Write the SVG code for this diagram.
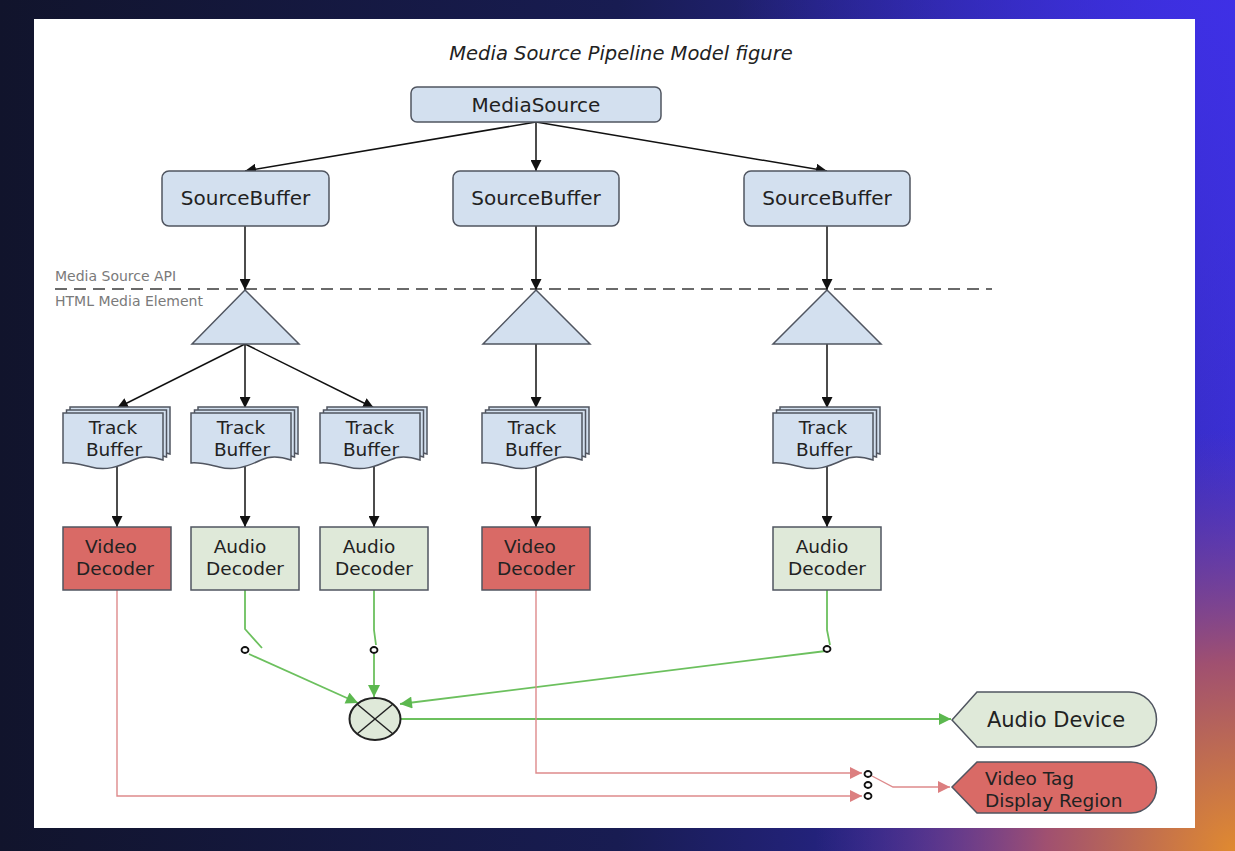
<svg xmlns="http://www.w3.org/2000/svg" width="1235" height="851" viewBox="0 0 1235 851">
<defs>
<linearGradient id="bg" x1="0" y1="0" x2="1" y2="0">
<stop offset="0" stop-color="#11142c"/>
<stop offset="0.5" stop-color="#181c52"/>
<stop offset="1" stop-color="#3a2fd0"/>
</linearGradient>
<radialGradient id="tr" cx="1235" cy="0" r="500" gradientUnits="userSpaceOnUse">
<stop offset="0" stop-color="#3f30e8" stop-opacity="0.9"/>
<stop offset="1" stop-color="#3f30e8" stop-opacity="0"/>
</radialGradient>
<radialGradient id="br" cx="1235" cy="851" r="420" gradientUnits="userSpaceOnUse">
<stop offset="0" stop-color="#e08a30"/>
<stop offset="0.45" stop-color="#a05070"/>
<stop offset="1" stop-color="#6a3aa0" stop-opacity="0"/>
</radialGradient>
<marker id="ab" viewBox="0 0 10 10" refX="10" refY="5" markerWidth="11" markerHeight="11" markerUnits="userSpaceOnUse" orient="auto">
<path d="M0,0 L10,5 L0,10 Z" fill="#111"/>
</marker>
<marker id="ag" viewBox="0 0 10 10" refX="10" refY="5" markerWidth="13" markerHeight="12" markerUnits="userSpaceOnUse" orient="auto">
<path d="M0,0 L10,5 L0,10 Z" fill="#5cb84f"/>
</marker>
<marker id="ar" viewBox="0 0 10 10" refX="10" refY="5" markerWidth="13" markerHeight="12" markerUnits="userSpaceOnUse" orient="auto">
<path d="M0,0 L10,5 L0,10 Z" fill="#dc7f80"/>
</marker>
<g id="doc">
<path d="M7,-6 H107 V41 C95,37 85,37 77,41 C62,48 50,52 35,48 C22,45 15,43 7,44 Z"/>
<path d="M3.5,-3 H103.5 V44 C91,40 81,40 73,44 C58,51 46,55 31,51 C18,48 11,46 3.5,47 Z"/>
<path d="M0,0 H100 V47 C88,43 78,43 70,47 C55,54 43,58 28,54 C15,51 8,49 0,50 Z"/>
</g>
</defs>
<style>
.box{fill:#d3e0ef;stroke:#505560;stroke-width:1.5}
.tb{fill:#d3e0ef;stroke:#505560;stroke-width:1.5}
.vd{fill:#d96a66;stroke:#505560;stroke-width:1.5}
.ad{fill:#dfe9d9;stroke:#505560;stroke-width:1.5}
.t{font-family:"DejaVu Sans",Verdana,sans-serif;font-size:20px;fill:#222;text-anchor:middle}
.t2{font-family:"DejaVu Sans",Verdana,sans-serif;font-size:18.5px;fill:#222;text-anchor:middle}
.lbl{font-family:"DejaVu Sans",Verdana,sans-serif;font-size:14px;fill:#7a7a7a}
.blk{stroke:#111;stroke-width:1.5;fill:none}
.grn{stroke:#6cc05e;stroke-width:1.8;fill:none}
.red{stroke:#de8a8c;stroke-width:1.4;fill:none}
.sw{fill:#fff;stroke:#111;stroke-width:1.8}
</style>
<rect width="1235" height="851" fill="url(#bg)"/>
<rect width="1235" height="851" fill="url(#tr)"/>
<rect width="1235" height="851" fill="url(#br)"/>
<rect x="34" y="19" width="1161" height="809" fill="#ffffff"/>

<text x="621" y="60" font-family="DejaVu Sans, Verdana, sans-serif" font-size="19.5" font-style="italic" fill="#222" text-anchor="middle">Media Source Pipeline Model figure</text>

<g id="api-line">
<line x1="55" y1="289" x2="992" y2="289" stroke="#6a6a6a" stroke-width="2" stroke-dasharray="12,7"/>
<text class="lbl" x="55" y="281">Media Source API</text>
<text class="lbl" x="55" y="306">HTML Media Element</text>
</g>

<g id="connectors">
<g class="blk">
<line x1="536" y1="122" x2="245" y2="171" marker-end="url(#ab)"/>
<line x1="536" y1="122" x2="536" y2="171" marker-end="url(#ab)"/>
<line x1="536" y1="122" x2="827" y2="171" marker-end="url(#ab)"/>
<line x1="245" y1="226" x2="245" y2="290" marker-end="url(#ab)"/>
<line x1="536" y1="226" x2="536" y2="290" marker-end="url(#ab)"/>
<line x1="827" y1="226" x2="827" y2="290" marker-end="url(#ab)"/>
<line x1="245" y1="344" x2="117" y2="408" marker-end="url(#ab)"/>
<line x1="245" y1="344" x2="245" y2="408" marker-end="url(#ab)"/>
<line x1="245" y1="344" x2="374" y2="408" marker-end="url(#ab)"/>
<line x1="536" y1="344" x2="536" y2="408" marker-end="url(#ab)"/>
<line x1="827" y1="344" x2="827" y2="408" marker-end="url(#ab)"/>
<line x1="117" y1="462" x2="117" y2="527" marker-end="url(#ab)"/>
<line x1="245" y1="462" x2="245" y2="527" marker-end="url(#ab)"/>
<line x1="374" y1="462" x2="374" y2="527" marker-end="url(#ab)"/>
<line x1="536" y1="462" x2="536" y2="527" marker-end="url(#ab)"/>
<line x1="827" y1="462" x2="827" y2="527" marker-end="url(#ab)"/>
</g>
<g class="grn">
<polyline points="245,590 245,629 262,648"/>
<polyline points="374,590 374,630 376,645"/>
<polyline points="827,590 827,630 830,645"/>
<line x1="249" y1="654" x2="358" y2="703" marker-end="url(#ag)"/>
<line x1="374" y1="654" x2="374" y2="697" marker-end="url(#ag)"/>
<line x1="826" y1="651" x2="400" y2="704" marker-end="url(#ag)"/>
<line x1="401" y1="719" x2="951" y2="719" marker-end="url(#ag)"/>
</g>
<g class="red">
<polyline points="117,590 117,796 862,796" marker-end="url(#ar)"/>
<polyline points="536,590 536,773 862,773" marker-end="url(#ar)"/>
<polyline points="872,776 893,787 950,787" marker-end="url(#ar)"/>
</g>
<g>
<ellipse class="sw" cx="245" cy="650" rx="3.5" ry="3"/>
<ellipse class="sw" cx="374" cy="650" rx="3.5" ry="3"/>
<ellipse class="sw" cx="827" cy="649" rx="3.5" ry="3"/>
<ellipse class="sw" cx="868" cy="774" rx="3.5" ry="3"/>
<ellipse class="sw" cx="868" cy="785" rx="3.5" ry="3"/>
<ellipse class="sw" cx="868" cy="796" rx="3.5" ry="3"/>
</g>
</g>

<g id="mediasource">
<rect class="box" x="411" y="87" width="250" height="35" rx="6"/>
<text class="t" x="536" y="112">MediaSource</text>
</g>
<g id="sb1"><rect class="box" x="162" y="171" width="167" height="55" rx="7"/><text class="t" x="245.5" y="205">SourceBuffer</text></g>
<g id="sb2"><rect class="box" x="453" y="171" width="166" height="55" rx="7"/><text class="t" x="536" y="205">SourceBuffer</text></g>
<g id="sb3"><rect class="box" x="744" y="171" width="166" height="55" rx="7"/><text class="t" x="827" y="205">SourceBuffer</text></g>

<g id="tri1"><polygon class="box" points="245,290 299,344 192,344"/></g>
<g id="tri2"><polygon class="box" points="536,290 590,344 483,344"/></g>
<g id="tri3"><polygon class="box" points="827,290 881,344 773,344"/></g>

<g id="tb1"><use class="tb" href="#doc" x="63" y="413"/><text class="t2" x="113" y="434">Track</text><text class="t2" x="114" y="456">Buffer</text></g>
<g id="tb2"><use class="tb" href="#doc" x="191" y="413"/><text class="t2" x="241" y="434">Track</text><text class="t2" x="242" y="456">Buffer</text></g>
<g id="tb3"><use class="tb" href="#doc" x="320" y="413"/><text class="t2" x="370" y="434">Track</text><text class="t2" x="371" y="456">Buffer</text></g>
<g id="tb4"><use class="tb" href="#doc" x="482" y="413"/><text class="t2" x="532" y="434">Track</text><text class="t2" x="533" y="456">Buffer</text></g>
<g id="tb5"><use class="tb" href="#doc" x="773" y="413"/><text class="t2" x="823" y="434">Track</text><text class="t2" x="824" y="456">Buffer</text></g>

<g id="vd1"><rect class="vd" x="63" y="527" width="108" height="63"/><text class="t2" x="111" y="553">Video</text><text class="t2" x="115" y="575">Decoder</text></g>
<g id="ad1"><rect class="ad" x="191" y="527" width="108" height="63"/><text class="t2" x="240" y="553">Audio</text><text class="t2" x="245" y="575">Decoder</text></g>
<g id="ad2"><rect class="ad" x="320" y="527" width="108" height="63"/><text class="t2" x="369" y="553">Audio</text><text class="t2" x="374" y="575">Decoder</text></g>
<g id="vd2"><rect class="vd" x="482" y="527" width="108" height="63"/><text class="t2" x="530" y="553">Video</text><text class="t2" x="536" y="575">Decoder</text></g>
<g id="ad3"><rect class="ad" x="773" y="527" width="108" height="63"/><text class="t2" x="822" y="553">Audio</text><text class="t2" x="827" y="575">Decoder</text></g>

<g id="mixer">
<ellipse cx="375" cy="719" rx="25.5" ry="21" fill="#dfe9d9" stroke="#222" stroke-width="2"/>
<line x1="357" y1="704" x2="393" y2="734" stroke="#222" stroke-width="1.5"/>
<line x1="393" y1="704" x2="357" y2="734" stroke="#222" stroke-width="1.5"/>
</g>

<g id="audio-device">
<path d="M952,720 L977,692 H1129 A27.5,27.5 0 0 1 1129,747 H977 Z" fill="#dfe9d9" stroke="#505560" stroke-width="1.5"/>
<text class="t" x="1056" y="727" style="font-size:21px">Audio Device</text>
</g>
<g id="video-tag">
<path d="M952,787 L977,762 H1131 A25.5,25.5 0 0 1 1131,813 H977 Z" fill="#d96a66" stroke="#505560" stroke-width="1.5"/>
<text class="t2" x="985" y="785" style="text-anchor:start">Video Tag</text>
<text class="t2" x="985" y="807" style="text-anchor:start">Display Region</text>
</g>
</svg>
